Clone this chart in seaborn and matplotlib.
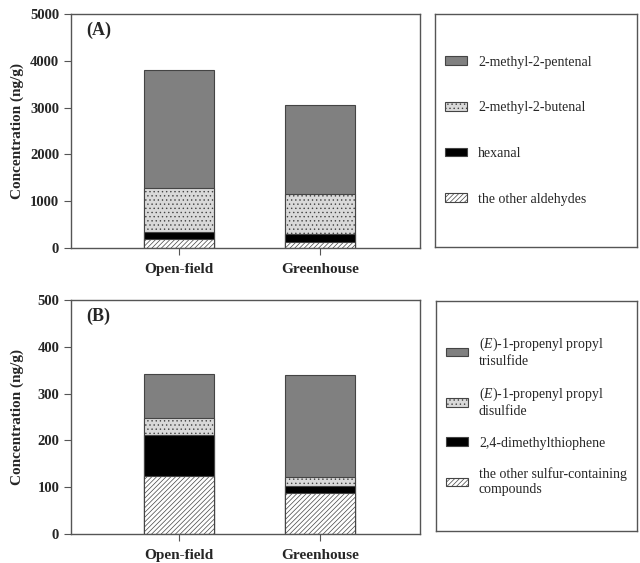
import numpy as np
import pandas as pd
import seaborn as sns
import matplotlib.pyplot as plt
from matplotlib.patches import Patch

sns.set_style('ticks')
plt.rcParams['font.family'] = ['Liberation Serif', 'DejaVu Serif']
plt.rcParams['hatch.linewidth'] = 0.5
plt.rcParams['mathtext.fontset'] = 'custom'
plt.rcParams['mathtext.it'] = 'Liberation Serif:italic'
plt.rcParams['mathtext.rm'] = 'Liberation Serif'

# Dados (ng/g)
locais = ['Open-field', 'Greenhouse']

# (A) aldeídos
ald_nomes = ['2-methyl-2-pentenal', '2-methyl-2-butenal', 'hexanal', 'the other aldehydes']
ald_outros = [192, 135]
ald_hexanal = [143, 157]
ald_butenal = [947, 869]
ald_pentenal = [2528, 1902]

# (B) compostos sulfurados
sul_nomes = ['($\\it{E}$)-1-propenyl propyl\ntrisulfide',
             '($\\it{E}$)-1-propenyl propyl\ndisulfide',
             '2,4-dimethylthiophene',
             'the other sulfur-containing\ncompounds']
sul_outros = [125, 87]
sul_tiofeno = [86, 15]
sul_dissulfeto = [37, 19]
sul_trissulfeto = [93, 219]

cinza = '#808080'
cinza_claro = '#d9d9d9'
borda = '#444444'

# estilo de cada camada (de baixo para cima)
estilos = [
    dict(color='white', hatch='///////'),
    dict(color='black', hatch=None),
    dict(color=cinza_claro, hatch='....'),
    dict(color=cinza, hatch=None),
]


def empilhar(ax, camadas):
    # desenha as barras acumuladas, da maior para a menor
    acumulado = np.cumsum(np.array(camadas), axis=0)
    for i in range(len(camadas) - 1, -1, -1):
        df = pd.DataFrame({'local': locais, 'valor': acumulado[i]})
        sns.barplot(data=df, x='local', y='valor', ax=ax, width=0.5,
                    color=estilos[i]['color'], hatch=estilos[i]['hatch'],
                    edgecolor=borda, linewidth=0.8, saturation=1, errorbar=None)


def formatar(ax, ymax, passo, letra):
    ax.set_ylim(0, ymax)
    ax.set_xlim(-0.77, 1.71)
    ax.set_yticks(np.arange(0, ymax + 1, passo))
    for s in ax.spines.values():
        s.set_visible(True)
        s.set_color('#555555')
        s.set_linewidth(1.0)
    ax.tick_params(axis='both', direction='out', length=5, width=0.8, color='#555555',
                   labelsize=10.5)
    ax.tick_params(axis='x', pad=6, labelsize=11)
    for t in ax.get_xticklabels() + ax.get_yticklabels():
        t.set_fontweight('bold')
    ax.set_xlabel('')
    ax.set_ylabel('Concentration (ng/g)', fontsize=11, fontweight='bold')
    ax.yaxis.set_label_coords(-0.135, 0.5)
    ax.text(0.045, 0.93, letra, transform=ax.transAxes, fontsize=13,
            fontweight='bold', va='center', ha='left')


def caixa_legenda(fig, ret, nomes, espaco):
    lax = fig.add_axes(ret)
    lax.set_xticks([])
    lax.set_yticks([])
    for s in lax.spines.values():
        s.set_visible(True)
        s.set_color('#555555')
        s.set_linewidth(1.0)
    handles = []
    for i in range(3, -1, -1):
        handles.append(Patch(facecolor=estilos[i]['color'], hatch=estilos[i]['hatch'],
                             edgecolor=borda, linewidth=0.8))
    lax.legend(handles, nomes, loc='center left', bbox_to_anchor=(0.0, 0.5),
               frameon=False, fontsize=10, handlelength=1.6, handleheight=0.6,
               handletextpad=0.8, labelspacing=espaco, borderaxespad=0.3)
    return lax


fig = plt.figure(figsize=(6.4, 5.63), dpi=100)

axA = fig.add_axes([0.111, 0.5595, 0.545, 0.4156])
empilhar(axA, [ald_outros, ald_hexanal, ald_butenal, ald_pentenal])
formatar(axA, 5000, 1000, '(A)')
caixa_legenda(fig, [0.680, 0.561, 0.316, 0.414], ald_nomes, 2.35)

axB = fig.add_axes([0.111, 0.0515, 0.545, 0.4156])
empilhar(axB, [sul_outros, sul_tiofeno, sul_dissulfeto, sul_trissulfeto])
formatar(axB, 500, 100, '(B)')
caixa_legenda(fig, [0.681, 0.0568, 0.315, 0.4085], sul_nomes, 1.3)

fig.savefig('out.png', dpi=100)
